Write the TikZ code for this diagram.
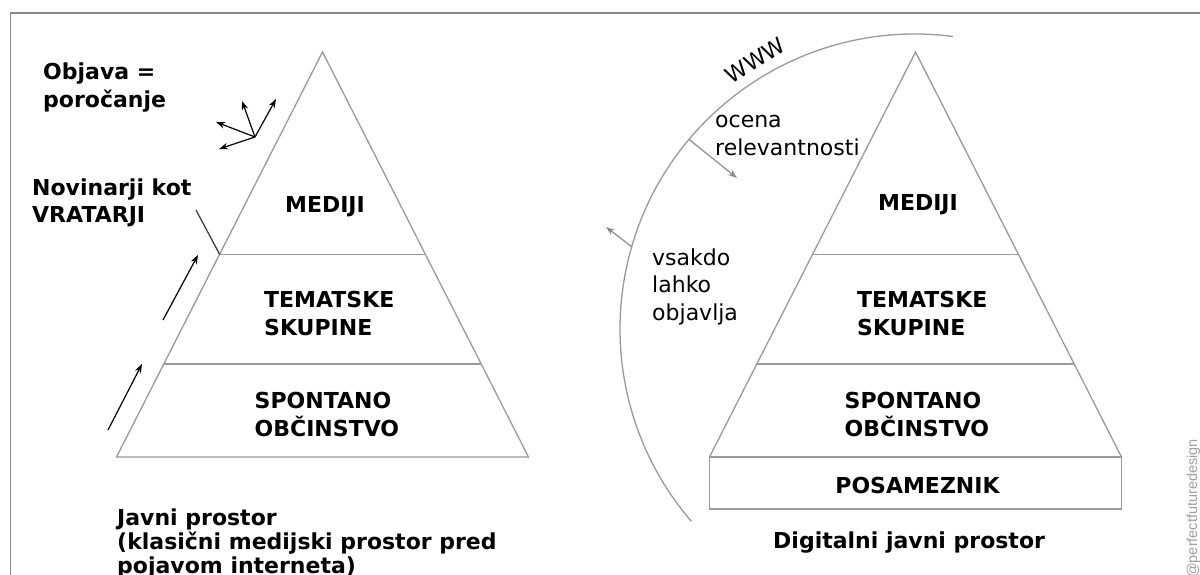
\documentclass[tikz,border=0pt]{standalone}
\usepackage{fontspec}
\setmainfont{DejaVu Sans}
\newfontfamily\wmfont{Liberation Sans}
\usetikzlibrary{arrows.meta}
\definecolor{pgray}{HTML}{9A9A9A}
\definecolor{fgray}{HTML}{8A8A8A}
\definecolor{agray}{HTML}{8C8C8C}
\definecolor{wgray}{HTML}{A0A0A0}
\begin{document}
\begin{tikzpicture}[x=1pt,y=-1pt,
  pyr/.style={draw=pgray, line width=1.3pt, line join=miter},
  frame/.style={draw=fgray, line width=1.5pt},
  lbl/.style={font=\bfseries\fontsize{22}{27.5}\selectfont, inner sep=0pt, align=left, anchor=base west},
  clbl/.style={font=\bfseries\fontsize{22}{27.5}\selectfont, inner sep=0pt, anchor=base},
  nlbl/.style={font=\fontsize{22}{27.5}\selectfont, inner sep=0pt, align=left, anchor=base west},
  blkarrow/.style={draw=black, line width=1.2pt, -{Stealth[length=9pt,width=6.5pt]}},
  gryarrow/.style={draw=agray, line width=1.2pt, -{Stealth[length=9pt,width=6.5pt]}},
  gateline/.style={draw=black!80, line width=1.2pt},
]
\useasboundingbox (0,0) rectangle (1200,575);
% frame
\draw[frame] (1200,13) -- (10.5,13) -- (10.5,575);

% ---------- left pyramid ----------
\begin{scope}[shift={(322.5,0)}]
  \draw[pyr] (0,52) -- (-206,457) -- (206,457) -- cycle;
  \draw[pyr] (-102.8,254.5) coordinate (Lgate) -- (102.8,254.5);
  \draw[pyr] (-158.7,364) -- (158.7,364);
  \node[clbl] (Lmed) at (2.5,212) {MEDIJI};
  \node[lbl] (Ltem) at (-58.5,335) {TEMATSKE\\SKUPINE};
  \node[lbl] (Lspo) at (-68,436) {SPONTANO\\OBČINSTVO};
\end{scope}

% multi-line nodes: base anchor = baseline of the last line
\node[lbl] (objava) at (43,107.5) {Objava =\\poročanje};
\node[lbl] (novinarji) at (32,222.5) {Novinarji kot\\VRATARJI};
\node[lbl, font=\bfseries\fontsize{22}{24}\selectfont] (javni) at (117,573) {Javni prostor\\(klasični medijski prostor pred\\pojavom interneta)};

% gatekeeper line
\coordinate (g0) at (196,210);
\draw[gateline] (g0) -- (Lgate);

% spray of arrows
\coordinate (s0) at (255,137);
\coordinate (s1) at (216,122);
\coordinate (s2) at (242,101);
\coordinate (s3) at (276,99);
\coordinate (s4) at (219,149);
\foreach \t in {s1,s2,s3,s4} \draw[blkarrow] (s0) -- (\t);

% upward arrows
\coordinate (u1a) at (163,320);
\coordinate (u1b) at (198,255);
\coordinate (u2a) at (108,430);
\coordinate (u2b) at (142,364);
\draw[blkarrow] (u1a) -- (u1b);
\draw[blkarrow] (u2a) -- (u2b);

% ---------- right pyramid ----------
\begin{scope}[shift={(915.5,0)}]
  \draw[pyr] (0,52) -- (-206,457) -- (206,457) -- cycle;
  \draw[pyr] (-102.8,254.5) -- (102.8,254.5);
  \draw[pyr] (-158.7,364) -- (158.7,364);
  \draw[pyr] (-206,457) rectangle (206,509);
  \node[clbl] (Rmed) at (2.5,211) {MEDIJI};
  \node[lbl] (Rtem) at (-58.5,335) {TEMATSKE\\SKUPINE};
  \node[lbl] (Rspo) at (-71,436) {SPONTANO\\OBČINSTVO};
  \node[clbl] (Rpos) at (2,493) {POSAMEZNIK};
\end{scope}

\node[lbl] (digital) at (773,548) {Digitalni javni prostor};

% WWW arc
\coordinate (wc) at (915,329);
\draw[pyr] ([shift={(-82.6:295)}]wc) arc[start angle=-82.6, end angle=-220.7, radius=295];
\node[font=\fontsize{22}{26}\selectfont, inner sep=0pt, rotate=32] (www) at (755,60) {WWW};

\node[nlbl] (ocena) at (715,155.5) {ocena\\relevantnosti};
\node[nlbl] (vsakdo) at (652,320) {vsakdo\\lahko\\objavlja};

\coordinate (a1) at ([shift={(-140:295)}]wc);
\coordinate (a1e) at (737,178);
\coordinate (a2) at ([shift={(-163.8:295)}]wc);
\coordinate (a2e) at (606,227);
\draw[gryarrow] (a1) -- (a1e);
\draw[gryarrow] (a2) -- (a2e);

% watermark
\node[font=\wmfont\fontsize{14.5}{16}\selectfont, text=wgray, rotate=90, inner sep=0pt, anchor=base west] (wm) at (1197,578) {@perfectfuturedesign};
\end{tikzpicture}
\end{document}
